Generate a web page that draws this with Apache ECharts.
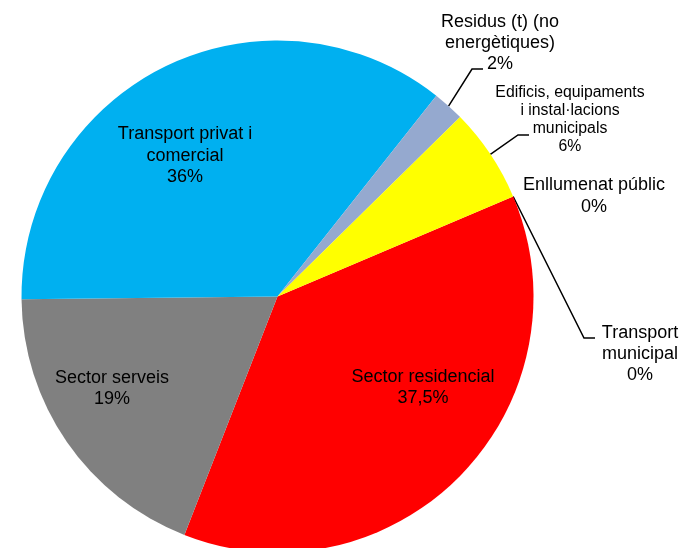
<!DOCTYPE html>
<html>
<head>
<meta charset="utf-8">
<title>Distribució de les emissions per sectors</title>
<script src="https://cdn.jsdelivr.net/npm/echarts@6/dist/echarts.min.js"></script>
<style>
  html, body { margin: 0; padding: 0; background: #fff; }
  #chart { width: 684px; height: 548px; }
</style>
</head>
<body>
<div id="chart"></div>
<script>
// Sectors, in clockwise order starting at the residential slice
const categories = [
  'Sector residencial',
  'Sector serveis',
  'Transport privat i\ncomercial',
  'Residus (t) (no\nenergètiques)',
  'Edificis, equipaments\ni instal·lacions\nmunicipals',
  'Enllumenat públic',
  'Transport\nmunicipal'
];

// Share of each sector (%)
const shares = [37.5, 19, 36, 2, 6, 0, 0];

const sliceColors = ['#FF0000', '#808080', '#00B0F0', '#95A9CF', '#FFFF00', '#F79646', '#8064A2'];

// Where each label block sits (centre of the text), its font and line spacing,
// and, for the outer labels, where the leader line meets the text.
const labelPlacement = [
  { x: 423, y: 388, size: 18, lh: 21 },
  { x: 112, y: 389, size: 18, lh: 21 },
  { x: 185, y: 156, size: 18, lh: 21.5 },
  { x: 500, y: 43,  size: 18, lh: 21, tip: [483, 69] },
  { x: 570, y: 120, size: 15.8, lh: 18, tip: [529, 135] },
  { x: 594, y: 196, size: 18, lh: 22 },
  { x: 640, y: 354, size: 18, lh: 21, tip: [595, 338] }
];

const fmt = v => String(v).replace('.', ',') + '%';

const seriesData = categories.map((name, i) => {
  const p = labelPlacement[i];
  return {
    name: name,
    value: shares[i],
    itemStyle: { color: sliceColors[i] },
    label: {
      fontSize: p.size,
      lineHeight: p.lh
    },
    labelLine: { show: !!p.tip }
  };
});

const chart = echarts.init(document.getElementById('chart'), null, { renderer: 'canvas' });

chart.setOption({
  animation: false,
  backgroundColor: '#ffffff',
  series: [{
    type: 'pie',
    center: [277.5, 296.5],
    radius: 256,
    startAngle: 23,
    clockwise: true,
    avoidLabelOverlap: false,
    minShowLabelAngle: 0,
    itemStyle: { borderWidth: 0 },
    emphasis: { disabled: true },
    label: {
      show: true,
      position: 'outside',
      color: '#000000',
      fontFamily: '"Liberation Sans", Arial, sans-serif',
      align: 'center',
      formatter: p => p.name + '\n' + fmt(p.value)
    },
    labelLine: {
      show: true,
      lineStyle: { color: '#000000', width: 1.5 }
    },
    labelLayout: params => {
      const p = labelPlacement[params.dataIndex];
      const out = { x: p.x, y: p.y, align: 'center', verticalAlign: 'middle' };
      if (p.tip && params.labelLinePoints) {
        const start = params.labelLinePoints[0];
        out.labelLinePoints = [
          [start[0], start[1]],
          [p.tip[0] - 11, p.tip[1]],
          [p.tip[0], p.tip[1]]
        ];
      }
      return out;
    },
    data: seriesData
  }]
});
</script>
</body>
</html>
